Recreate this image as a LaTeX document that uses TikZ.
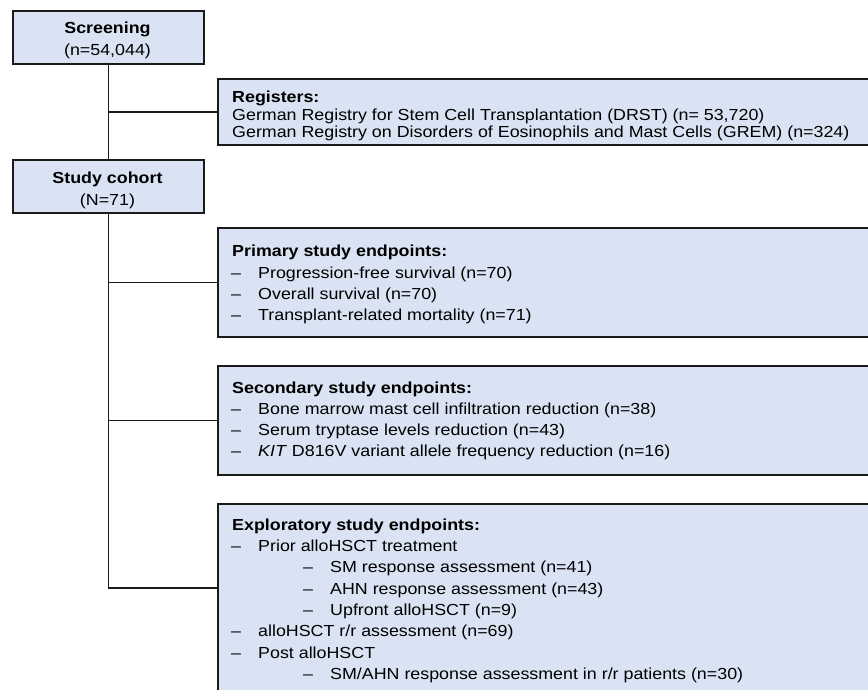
\documentclass[tikz,border=0pt]{standalone}
\usepackage{fontspec}
\setmainfont{Liberation Sans}[FakeStretch=1.115]
\definecolor{boxfill}{HTML}{DAE3F3}
\definecolor{lineclr}{HTML}{1A1A1A}
\begin{document}
\begin{tikzpicture}[x=1pt,y=-1pt,
  box/.style={draw=lineclr, line width=1.6pt, fill=boxfill, inner sep=0pt, anchor=north west},
  conn/.style={draw=lineclr, line width=1.5pt},
  txt/.style={anchor=base west, inner sep=0pt, font=\fontsize{16}{19}\selectfont},
  ctxt/.style={anchor=base, inner sep=0pt, font=\fontsize{16}{19}\selectfont}]
\clip (0,0) rectangle (868,690);
% left boxes
\node[box, minimum width=191pt, minimum height=53pt] (scr) at (12,10) {};
\node[box, minimum width=191pt, minimum height=53pt] (coh) at (12,159) {};
\node[ctxt] (scrT) at (107.5,34) {\textbf{Screening}};
\node[ctxt] (scrN) at (107.5,56) {(n=54,044)};
\node[ctxt] (cohT) at (107.5,183) {\textbf{Study cohort}};
\node[ctxt] (cohN) at (107.5,205) {(N=71)};
% right boxes
\node[box, minimum width=680pt, minimum height=66pt] (reg) at (217,78) {};
\node[box, minimum width=680pt, minimum height=109pt] (pri) at (217,227) {};
\node[box, minimum width=680pt, minimum height=109pt] (sec) at (217,365) {};
\node[box, minimum width=680pt, minimum height=240pt] (exp) at (217,503) {};
\coordinate (expC) at (217,588);
% connectors
\draw[conn] (scr.south) -- (coh.north);
\draw[conn] (scr.south |- reg.west) -- (reg.west);
\draw[conn] (coh.south) -- (coh.south |- expC);
\draw[conn] (coh.south |- pri.west) -- (pri.west);
\draw[conn] (coh.south |- sec.west) -- (sec.west);
\draw[conn] (coh.south |- expC) -- (expC);
% registers text
\node[txt] (r0) at (232,103) {\textbf{Registers:}};
\node[txt] (r1) at (232,120.5) {German Registry for Stem Cell Transplantation (DRST) (n= 53,720)};
\node[txt] (r2) at (232,138) {German Registry on Disorders of Eosinophils and Mast Cells (GREM) (n=324)};
% primary
\node[txt] (p0) at (232,256.5) {\textbf{Primary study endpoints:}};
\node[txt] (p1d) at (231,278) {–}; \node[txt] (p1) at (258,278) {Progression-free survival (n=70)};
\node[txt] (p2d) at (231,299) {–}; \node[txt] (p2) at (258,299) {Overall survival (n=70)};
\node[txt] (p3d) at (231,320) {–}; \node[txt] (p3) at (258,320) {Transplant-related mortality (n=71)};
% secondary
\node[txt] (s0) at (232,393) {\textbf{Secondary study endpoints:}};
\node[txt] (s1d) at (231,414.5) {–}; \node[txt] (s1) at (258,414.5) {Bone marrow mast cell infiltration reduction (n=38)};
\node[txt] (s2d) at (231,435.5) {–}; \node[txt] (s2) at (258,435.5) {Serum tryptase levels reduction (n=43)};
\node[txt] (s3d) at (231,456.5) {–}; \node[txt] (s3) at (258,456.5) {\textit{KIT} D816V variant allele frequency reduction (n=16)};
% exploratory
\node[txt] (e0) at (232,530) {\textbf{Exploratory study endpoints:}};
\node[txt] (e1d) at (231,551.5) {–}; \node[txt] (e1) at (258,551.5) {Prior alloHSCT treatment};
\node[txt] (e2d) at (303,572.8) {–}; \node[txt] (e2) at (330,572.8) {SM response assessment (n=41)};
\node[txt] (e3d) at (303,594) {–}; \node[txt] (e3) at (330,594) {AHN response assessment (n=43)};
\node[txt] (e4d) at (303,615.3) {–}; \node[txt] (e4) at (330,615.3) {Upfront alloHSCT (n=9)};
\node[txt] (e5d) at (231,636.6) {–}; \node[txt] (e5) at (258,636.6) {alloHSCT r/r assessment (n=69)};
\node[txt] (e6d) at (231,658) {–}; \node[txt] (e6) at (258,658) {Post alloHSCT};
\node[txt] (e7d) at (303,679.3) {–}; \node[txt] (e7) at (330,679.3) {SM/AHN response assessment in r/r patients (n=30)};
\end{tikzpicture}
\end{document}
